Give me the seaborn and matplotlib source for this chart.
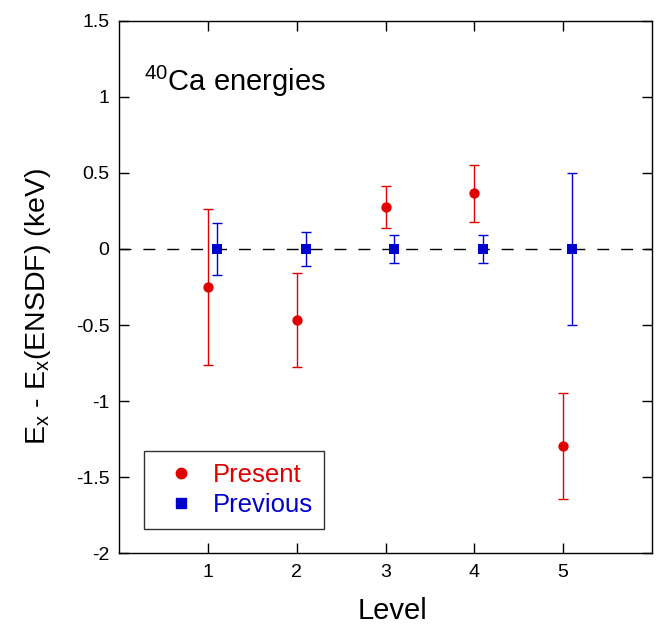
import matplotlib
matplotlib.use('Agg')
import matplotlib.pyplot as plt
import seaborn as sns
import pandas as pd
from matplotlib.lines import Line2D

# data
levels = [1, 2, 3, 4, 5]
present_val = [-0.25, -0.465, 0.275, 0.365, -1.295]
present_err = [0.51, 0.31, 0.14, 0.19, 0.35]
previous_val = [0.0, 0.0, 0.0, 0.0, 0.0]
previous_err = [0.17, 0.11, 0.09, 0.09, 0.5]
previous_shift = 0.1

RED = '#e00000'
BLUE = '#0000cc'

sns.set_theme(style='ticks')
plt.rcParams['font.family'] = ['Liberation Sans', 'DejaVu Sans']
plt.rcParams['mathtext.default'] = 'regular'
plt.rcParams['text.color'] = 'black'
plt.rcParams['axes.labelcolor'] = 'black'

present_df = pd.DataFrame({'level': levels, 'val': present_val, 'err': present_err})
previous_df = pd.DataFrame({'level': [l + previous_shift for l in levels], 'val': previous_val, 'err': previous_err})

fig = plt.figure(figsize=(6.57, 6.27), dpi=100)
ax = fig.add_axes([119 / 657, 1 - 553.3 / 627, 533 / 657, 532.6 / 627])

ax.axhline(0, color='black', linestyle=(0, (8.6, 8.6)), linewidth=1, zorder=1)

ax.errorbar(present_df['level'], present_df['val'], yerr=present_df['err'], fmt='none',
            ecolor=RED, elinewidth=1.0, capsize=3.5, capthick=1.0, zorder=2)
ax.errorbar(previous_df['level'], previous_df['val'], yerr=previous_df['err'], fmt='none',
            ecolor=BLUE, elinewidth=1.0, capsize=3.5, capthick=1.0, zorder=2)
sns.scatterplot(data=present_df, x='level', y='val', ax=ax, color=RED, marker='o', s=55,
                edgecolor=RED, linewidth=0, zorder=3)
sns.scatterplot(data=previous_df, x='level', y='val', ax=ax, color=BLUE, marker='s', s=55,
                edgecolor=BLUE, linewidth=0, zorder=3)

ax.set_xlim(0, 6.0)
ax.set_ylim(-2, 1.5)
ax.set_xticks(levels)
ax.set_yticks([-2, -1.5, -1, -0.5, 0, 0.5, 1, 1.5])
ax.set_yticklabels(['-2', '-1.5', '-1', '-0.5', '0', '0.5', '1', '1.5'])
ax.tick_params(direction='in', length=7, width=1, labelsize=14, top=True, right=True,
               colors='black')
ax.tick_params(axis='y', pad=7)
ax.tick_params(axis='x', pad=8)
for sp in ax.spines.values():
    sp.set_color('black')
    sp.set_linewidth(1)

ax.set_xlabel('Level', fontsize=21)
ax.xaxis.set_label_coords((392 - 119) / 533, -(597 - 553.3) / 532.6)
ax.set_ylabel('E$_x$ - E$_x$(ENSDF) (keV)', fontsize=20.5)
ax.yaxis.set_label_coords(-(119 - 53) / 533, 1 - (306 - 20.7) / 532.6)

ax.text((144 - 119) / 533, 1 - (81 - 20.7) / 532.6, '$^{40}$Ca energies',
        transform=ax.transAxes, fontsize=21, va='center', ha='left')

handles = [Line2D([], [], marker='o', color=RED, linestyle='none', markersize=7.5),
           Line2D([], [], marker='s', color=BLUE, linestyle='none', markersize=7)]
leg = ax.legend(handles, ['Present', 'Previous'], loc='lower left',
                bbox_to_anchor=((144 - 119) / 533, (553.3 - 529) / 532.6), fontsize=18.5,
                frameon=True, fancybox=False, edgecolor='black', handletextpad=0.26,
                borderpad=0.45, labelspacing=0.25, handlelength=1.96, borderaxespad=0)
leg.get_frame().set_linewidth(1)
for txt, c in zip(leg.get_texts(), [RED, BLUE]):
    txt.set_color(c)

plt.savefig('out.png', dpi=100)
plt.close()
